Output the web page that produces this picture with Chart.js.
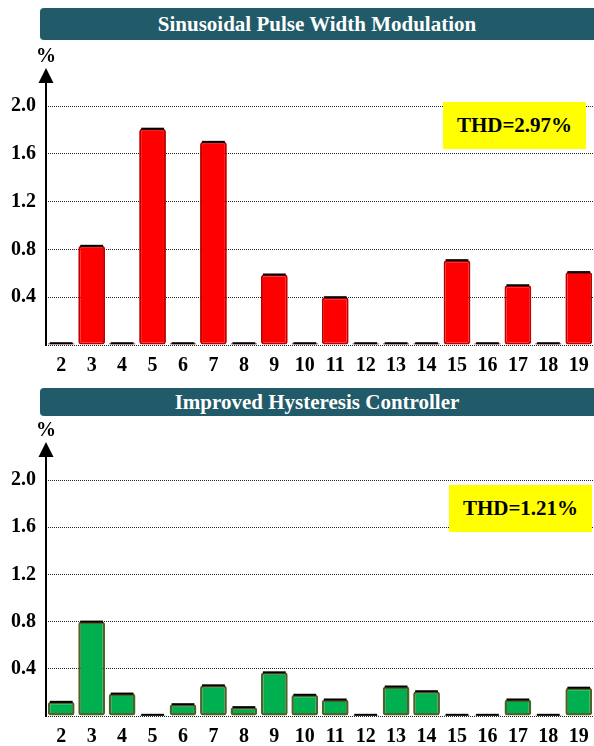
<!DOCTYPE html>
<html>
<head>
<meta charset="utf-8">
<script src="https://cdn.jsdelivr.net/npm/chart.js@4.4.1/dist/chart.umd.min.js"></script>
<style>
  html, body { margin: 0; padding: 0; background: #ffffff; }
  body { width: 594px; height: 746px; position: relative; overflow: hidden; font-family: "Liberation Serif", "Times New Roman", serif; }
  .title { position: absolute; left: 40px; width: 554px; background: #215a68; color: #ffffff; font-weight: bold; font-size: 21px; text-align: center; border-radius: 4px 0 0 4px; }
  .thd { position: absolute; width: 143px; height: 47px; line-height: 47px; background: #ffff00; color: #000; font-weight: bold; font-size: 21px; text-align: center; }
  canvas { position: absolute; left: 0; }
</style>
</head>
<body>
<canvas id="c1" width="594" height="375" style="top:0px"></canvas>
<canvas id="c2" width="594" height="372" style="top:374px"></canvas>
<div class="title" style="top:8px;height:32px;line-height:32px;">Sinusoidal Pulse Width Modulation</div>
<div class="title" style="top:388px;height:28px;line-height:28px;">Improved Hysteresis Controller</div>
<div class="thd" style="left:443px;top:102px;">THD=2.97%</div>
<div class="thd" style="left:449px;top:485px;">THD=1.21%</div>
<script>
const categories = ['2','3','4','5','6','7','8','9','10','11','12','13','14','15','16','17','18','19'];
const spwmValues = [0.015, 0.83, 0.015, 1.81, 0.015, 1.70, 0.015, 0.59, 0.015, 0.40, 0.015, 0.015, 0.015, 0.71, 0.015, 0.50, 0.015, 0.61];
const hystValues = [0.12, 0.80, 0.19, 0.01, 0.10, 0.26, 0.075, 0.37, 0.18, 0.14, 0.01, 0.25, 0.21, 0.01, 0.01, 0.14, 0.01, 0.24];
const yTicks = [0.4, 0.8, 1.2, 1.6, 2.0];

const FONT = '"Liberation Serif", "Times New Roman", serif';

const axisArrow = {
  id: 'axisArrow',
  afterDraw(chart) {
    const ctx = chart.ctx;
    const a = chart.chartArea;
    const x = a.left;
    const tip = a.top - 38;
    ctx.save();
    ctx.strokeStyle = '#000';
    ctx.lineWidth = 2;
    ctx.beginPath();
    ctx.moveTo(x, a.bottom + 1);
    ctx.lineTo(x, tip + 10);
    ctx.stroke();
    ctx.fillStyle = '#000';
    ctx.beginPath();
    ctx.moveTo(x, tip);
    ctx.lineTo(x - 7.5, tip + 15);
    ctx.lineTo(x + 7.5, tip + 15);
    ctx.closePath();
    ctx.fill();
    ctx.font = 'bold 20px ' + FONT;
    ctx.textAlign = 'center';
    ctx.textBaseline = 'middle';
    ctx.fillText('%', x, tip - 11);
    ctx.restore();
  }
};

const barCap = {
  id: 'barCap',
  afterDatasetsDraw(chart) {
    const ctx = chart.ctx;
    const meta = chart.getDatasetMeta(0);
    ctx.save();
    ctx.fillStyle = '#000';
    meta.data.forEach(b => {
      const w = b.width;
      ctx.fillRect(b.x - w / 2 + 2, b.y - 1, w - 4, 2);
    });
    ctx.restore();
  }
};

function makeChart(id, values, fill, border, bw) {
  return new Chart(document.getElementById(id), {
    type: 'bar',
    data: {
      labels: categories,
      datasets: [{
        data: values,
        backgroundColor: fill,
        borderColor: border,
        borderWidth: bw,
        borderRadius: 3,
        borderSkipped: false,
        barPercentage: 0.88,
        categoryPercentage: 1.0
      }]
    },
    options: {
      responsive: false,
      animation: false,
      devicePixelRatio: 1,
      layout: { padding: { top: 106, right: 0, left: 0, bottom: 0 } },
      plugins: { legend: { display: false }, tooltip: { enabled: false }, title: { display: false } },
      scales: {
        x: {
          grid: { display: false },
          border: { display: false },
          ticks: { color: '#000', font: { family: FONT, size: 20, weight: 'bold' }, padding: 1, maxRotation: 0, autoSkip: false },
          afterFit(scale) { scale.height = 30; }
        },
        y: {
          min: 0, max: 2.0,
          afterBuildTicks(scale) { scale.ticks = [0].concat(yTicks).map(v => ({ value: v })); },
          grid: { color: '#222', lineWidth: 1, drawTicks: false },
          border: { display: false, dash: [1, 1] },
          ticks: {
            color: '#000', font: { family: FONT, size: 20, weight: 'bold' }, padding: 10,
            callback: v => v === 0 ? '' : v.toFixed(1)
          },
          afterFit(scale) { scale.width = 46; }
        }
      }
    },
    plugins: [barCap, axisArrow]
  });
}

const c1 = makeChart('c1', spwmValues, '#ff0000', '#c00000', 2);
const c2 = makeChart('c2', hystValues, '#00b050', '#4f6228', 2.5);
</script>
</body>
</html>
